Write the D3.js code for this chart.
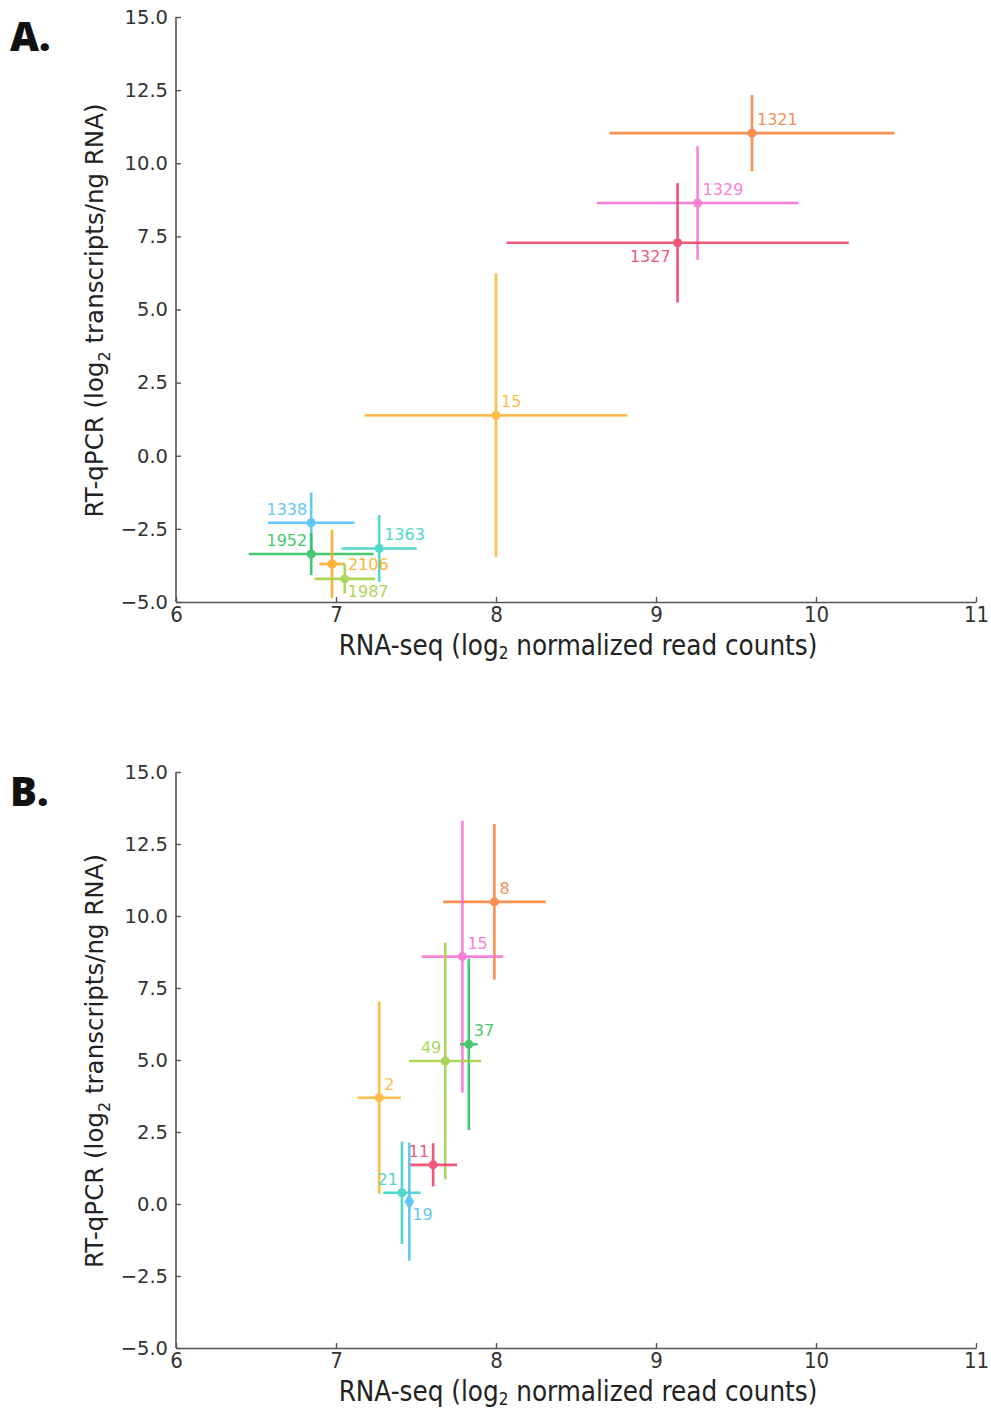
<!DOCTYPE html>
<html>
<head>
<meta charset="utf-8">
<script src="https://cdn.jsdelivr.net/npm/d3@7"></script>
<style>
  html, body { margin: 0; padding: 0; background: #fff; }
  svg { display: block; }
</style>
</head>
<body>
<svg id="chart" width="991" height="1409"></svg>
<script>
// Panel A: transcript IDs, RNA-seq (x) and RT-qPCR (y) means with error half-widths
const labelsA = ["1321", "1329", "1327", "15", "1338", "1363", "1952", "2106", "1987"];
const xA      = [9.60, 9.26, 9.135, 8.00, 6.845, 7.27, 6.845, 6.975, 7.055];
const yA      = [11.03, 8.64, 7.28, 1.38, -2.29, -3.17, -3.36, -3.70, -4.21];
const xErrA   = [0.89, 0.63, 1.07, 0.82, 0.27, 0.235, 0.39, 0.08, 0.19];
const yErrA   = [1.30, 1.94, 2.04, 4.85, 1.03, 1.14, 0.72, 1.17, 0.50];
const colorsA = ["#f6843f", "#f874d3", "#ef456b", "#fdb63a", "#53c3f7", "#3dd4c6", "#35c360", "#fcab22", "#a5d14b"];
const placeA  = ["ne", "ne", "sw", "ne", "nw", "ne", "nw", "e", "se"];
const shapeA  = ["circle", "circle", "circle", "circle", "circle", "circle", "circle", "circle", "circle"];

// Panel B
const labelsB = ["8", "15", "37", "49", "2", "11", "21", "19"];
const xB      = [7.99, 7.79, 7.83, 7.683, 7.27, 7.607, 7.412, 7.458];
const yB      = [10.49, 8.59, 5.545, 4.965, 3.69, 1.36, 0.39, 0.08];
const xErrB   = [0.32, 0.255, 0.055, 0.225, 0.135, 0.15, 0.117, 0.0];
const yErrB   = [2.70, 4.72, 2.98, 4.11, 3.34, 0.75, 1.78, 2.05];
const colorsB = ["#f6843f", "#f874d3", "#35c360", "#a5d14b", "#fdb63a", "#ef456b", "#3dd4c6", "#53c3f7"];
const placeB  = ["ne", "ne", "ne", "nw", "ne", "nw", "nw", "se"];
const shapeB  = ["circle", "circle", "circle", "circle", "circle", "circle", "circle", "diamond"];

// Shared axis settings
const xDomain = [6, 11];
const yDomain = [-5, 15];
const xTicks  = [6, 7, 8, 9, 10, 11];
const yTicks  = [-5, -2.5, 0, 2.5, 5, 7.5, 10, 12.5, 15];

const svg = d3.select("#chart");

function drawPanel(cfg) {
  const { letter, top, bottom, labels, xs, ys, xe, ye, colors, places, shapes } = cfg;
  const left = 176, right = 976;
  const x = d3.scaleLinear().domain(xDomain).range([left, right]);
  const y = d3.scaleLinear().domain(yDomain).range([bottom, top]);
  const g = svg.append("g");

  // Axes (inward ticks, left and bottom spines only)
  const xAxis = d3.axisBottom(x).tickValues(xTicks).tickSizeInner(-5).tickSizeOuter(0).tickPadding(9)
    .tickFormat(d3.format("d"));
  const yAxis = d3.axisLeft(y).tickValues(yTicks).tickSizeInner(-5).tickSizeOuter(0).tickPadding(8)
    .tickFormat(d => d3.format(".1f")(d).replace("-", "\u2212"));

  const gx = g.append("g").attr("transform", `translate(0,${bottom})`).call(xAxis);
  const gy = g.append("g").attr("transform", `translate(${left},0)`).call(yAxis);
  [gx, gy].forEach(a => {
    a.select(".domain").attr("stroke", "#555").attr("stroke-width", 1.6);
    a.selectAll(".tick line").attr("stroke", "#555").attr("stroke-width", 1.4);
  });
  gx.selectAll(".tick text")
    .attr("font-family", "'DejaVu Sans Condensed', 'Liberation Sans Narrow', sans-serif")
    .attr("font-stretch", "condensed")
    .attr("font-size", 22).attr("fill", "#333").attr("dy", "0.5em");
  gy.selectAll(".tick text")
    .attr("font-family", "'DejaVu Sans', sans-serif")
    .attr("font-size", 19.5).attr("fill", "#333");
  gy.select(".domain").attr("d", `M0,${top}V${bottom}`);

  // Axis titles
  const xt = g.append("text")
    .attr("x", (left + right) / 2 + 2).attr("y", bottom + 53)
    .attr("text-anchor", "middle")
    .attr("font-family", "'DejaVu Sans Condensed', 'Liberation Sans Narrow', sans-serif")
    .attr("font-stretch", "condensed")
    .attr("font-size", 27.5).attr("fill", "#222");
  xt.append("tspan").text("RNA-seq (log");
  xt.append("tspan").text("2").attr("font-size", 17).attr("dy", 4);
  xt.append("tspan").text(" normalized read counts)").attr("dy", -4);

  const yt = g.append("text")
    .attr("transform", `translate(103,${(top + bottom) / 2 + 1}) rotate(-90)`)
    .attr("text-anchor", "middle")
    .attr("font-family", "'DejaVu Sans', sans-serif")
    .attr("font-size", 24.5).attr("fill", "#222");
  yt.append("tspan").text("RT-qPCR (log");
  yt.append("tspan").text("2").attr("font-size", 16).attr("dy", 7);
  yt.append("tspan").text(" transcripts/ng RNA)").attr("dy", -7);

  // Panel letter
  g.append("text").attr("x", 10).attr("y", top + 34)
    .attr("font-family", "'Open Sans', 'DejaVu Sans', sans-serif")
    .attr("font-weight", 800).attr("font-size", 40).attr("fill", "#111")
    .text(letter);

  // Error bars and markers
  const idx = d3.range(labels.length);
  const pts = g.append("g");
  idx.forEach(i => {
    const c = colors[i];
    const p = pts.append("g").attr("opacity", 0.9);
    if (xe[i] > 0) {
      p.append("line")
        .attr("x1", x(xs[i] - xe[i])).attr("x2", x(xs[i] + xe[i]))
        .attr("y1", y(ys[i])).attr("y2", y(ys[i]))
        .attr("stroke", c).attr("stroke-width", 2.6);
    }
    p.append("line")
      .attr("x1", x(xs[i])).attr("x2", x(xs[i]))
      .attr("y1", y(ys[i] - ye[i])).attr("y2", y(ys[i] + ye[i]))
      .attr("stroke", c).attr("stroke-width", 2.6);
    const sym = shapes[i] === "diamond" ? d3.symbolDiamond : d3.symbolCircle;
    p.append("path")
      .attr("d", d3.symbol().type(sym).size(shapes[i] === "diamond" ? 80 : 64)())
      .attr("transform", `translate(${x(xs[i])},${y(ys[i])})`)
      .attr("fill", c);

    // Value label
    const off = {
      ne: [5, -8, "start"], nw: [-4, -8, "end"], sw: [-7, 19, "end"],
      se: [3, 18, "start"], e: [16, 6, "start"]
    }[places[i]];
    p.append("text")
      .attr("x", x(xs[i]) + off[0]).attr("y", y(ys[i]) + off[1])
      .attr("text-anchor", off[2])
      .attr("font-family", "'DejaVu Sans', sans-serif")
      .attr("font-size", 16).attr("fill", c)
      .text(labels[i]);
  });
}

drawPanel({ letter: "A.", top: 17, bottom: 602, labels: labelsA, xs: xA, ys: yA, xe: xErrA, ye: yErrA,
            colors: colorsA, places: placeA, shapes: shapeA });
drawPanel({ letter: "B.", top: 772, bottom: 1348, labels: labelsB, xs: xB, ys: yB, xe: xErrB, ye: yErrB,
            colors: colorsB, places: placeB, shapes: shapeB });
</script>
</body>
</html>
